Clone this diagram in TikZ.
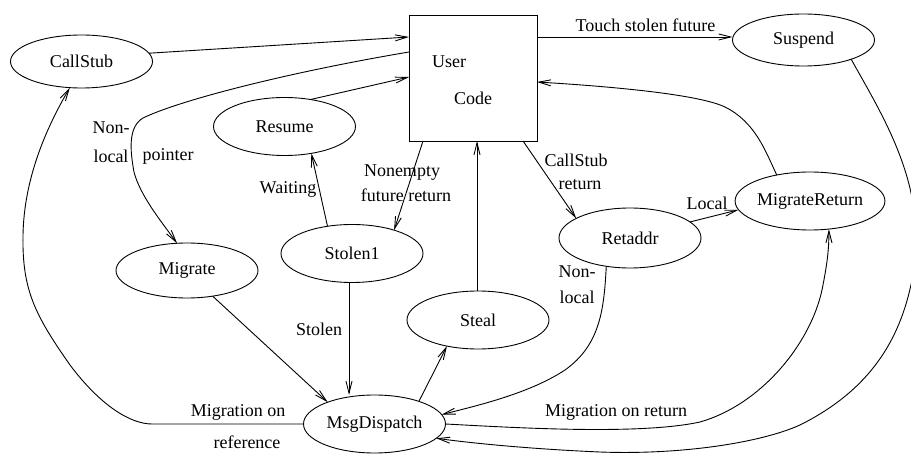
\documentclass[tikz,border=0pt]{standalone}
\usepackage{fontspec}
\setmainfont{Liberation Serif}
\newfontfamily\tmsfont{Liberation Serif}
\usetikzlibrary{shapes.geometric,arrows.meta}
\begin{document}
\begin{tikzpicture}[x=1pt,y=-1pt,
  every node/.style={font=\tmsfont\fontsize{18}{21}\selectfont},
  st/.style={draw, ellipse, minimum width=142pt, minimum height=58pt, inner sep=0pt, outer sep=0pt, line width=0.9pt},
  lbl/.style={inner sep=0pt},
  ln/.style={line width=0.9pt},
  arr/.style={line width=0.9pt, -{Straight Barb[length=12pt,width=6pt]}}]
\useasboundingbox (0,0) rectangle (911,454);
\clip (0,0) rectangle (911,454);
% box
\node[draw, line width=0.9pt, minimum width=128pt, minimum height=126pt, inner sep=0pt, outer sep=0pt] (U) at (473,78) {};
\node[lbl] (userT) at (449,62) {User};
\node[lbl] (codeT) at (473,98) {Code};
\coordinate (Ul1) at ([yshift=-22pt]U.north west);
\coordinate (Ul2) at ([yshift=-37pt]U.north west);
\coordinate (Ul3) at ([yshift=-62pt]U.north west);
\coordinate (Ur1) at ([yshift=-22pt]U.north east);
\coordinate (Ur2) at ([yshift=-67pt]U.north east);
\coordinate (Ub1) at ([xshift=14pt]U.south west);
\coordinate (Ub2) at ([xshift=68pt]U.south west);
\coordinate (Ub3) at ([xshift=114pt]U.south west);
% states
\node[st, minimum height=53pt] (CallStub) at (81.5,61.5) {CallStub};
\node[st] (Resume) at (284.5,126.5) {Resume};
\node[st, minimum height=52pt] (Suspend) at (803.5,40) {Suspend};
\node[st] (MigrateReturn) at (810,201) {MigrateReturn};
\node[st, minimum height=60pt] (Retaddr) at (630,238) {Retaddr};
\node[st] (Stolen1) at (352,253.5) {Stolen1};
\node[st, minimum height=55pt] (Migrate) at (187,270.5) {Migrate};
\node[st] (Steal) at (478,320) {Steal};
\node[st] (MsgDispatch) at (374.5,424) {MsgDispatch};
% labels
\node[lbl] (tsf) at (645.5,25) {Touch stolen future};
\node[lbl] (nl1) at (111,128) {Non-};
\node[lbl] (nl2) at (111,156) {local};
\node[lbl] (ptr) at (168,156) {pointer};
\node[lbl] (wait) at (288,189) {Waiting};
\node[lbl] (ne1) at (402,173) {Nonempty};
\node[lbl] (ne2) at (406,195) {future return};
\node[lbl] (cs1) at (576,160) {CallStub};
\node[lbl] (cs2) at (580,185) {return};
\node[lbl] (loc) at (707,203) {Local};
\node[lbl] (nl3) at (577,272) {Non-};
\node[lbl] (nl4) at (577,297) {local};
\node[lbl] (stl) at (319,329) {Stolen};
\node[lbl] (mor1) at (238,412) {Migration on};
\node[lbl] (mor2) at (247,442) {reference};
\node[lbl] (mret) at (616,412) {Migration on return};
% connectors
\draw[arr] (CallStub.7) -- (Ul1);
\draw[arr] (Ul2) .. controls (290,72) and (180,100) .. (143,118)
  .. controls (128,127) and (130,150) .. (134,172)
  .. controls (140,195) and (160,220) .. (Migrate.110);
\draw[arr] (Resume.46) -- (Ul3);
\draw[arr] (Ur1) -- (Ur1 -| Suspend.west);
\draw[arr] (Suspend.338) .. controls (885,120) and (930,190) .. (912,280)
  .. controls (900,340) and (870,390) .. (800,425)
  .. controls (760,443) and (680,455) .. (600,452)
  .. controls (530,449) and (470,443) .. (MsgDispatch.347);
\draw[arr] (MigrateReturn.142) .. controls (765,150) and (755,122) .. (725,107)
  .. controls (700,95) and (620,87) .. (Ur2);
\draw[arr] (Ub3) -- (Retaddr.160);
\draw[arr] (Retaddr.15) -- (MigrateReturn.187);
\draw[arr] (Retaddr.230) .. controls (604,310) and (600,345) .. (565,370)
  .. controls (530,393) and (480,405) .. (MsgDispatch.8);
\draw[arr] (MsgDispatch.east) .. controls (520,428) and (640,435) .. (700,422)
  .. controls (760,405) and (810,345) .. (822,290)
  .. controls (827,265) and (829,250) .. (MigrateReturn.304);
\draw[arr] (MsgDispatch.27) -- (Steal.220);
\draw[arr] (Ub2 |- Steal.north) -- (Ub2);
\coordinate (s1) at ([xshift=-3pt]Stolen1.south);
\draw[arr] (s1) -- (s1 |- MsgDispatch.north);
\draw[arr] (Stolen1.132) -- (Resume.315);
\draw[arr] (Ub1) -- (Stolen1.29);
\draw[arr] (Migrate.315) -- (MsgDispatch.155);
\draw[arr] (MsgDispatch.west) -- (152,424) .. controls (130,424) and (100,405) .. (70,365)
  .. controls (35,315) and (22,290) .. (23,235)
  .. controls (24,180) and (45,130) .. (CallStub.246);
\end{tikzpicture}
\end{document}
